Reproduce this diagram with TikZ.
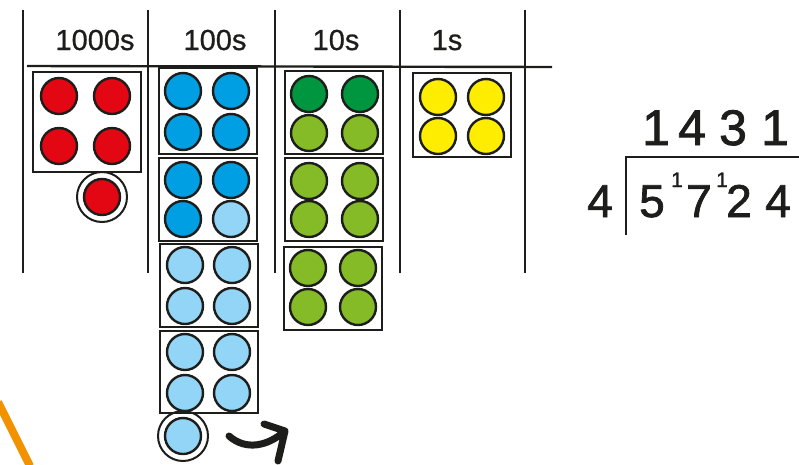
\documentclass[tikz,border=0pt]{standalone}
\usepackage{fontspec}
\setmainfont{Liberation Sans}
\newfontfamily\markerfont[FakeBold=1.6]{Liberation Sans}
\newfontfamily\labelfont[FakeBold=0.8]{Liberation Sans}
\usepackage{xcolor}
\usetikzlibrary{positioning,arrows.meta}

\definecolor{thouRed}{HTML}{E30613}
\definecolor{hundBlue}{HTML}{009FE3}
\definecolor{hundLight}{HTML}{93D5F6}
\definecolor{tenDark}{HTML}{009640}
\definecolor{tenGreen}{HTML}{84BB26}
\definecolor{oneYellow}{HTML}{FFED00}
\definecolor{penOrange}{HTML}{F39200}
\definecolor{ink}{HTML}{1D1D1B}

\tikzset{
  counter/.style={circle, draw=ink, line width=2.4pt, minimum size=36pt, inner sep=0pt},
  group/.style={draw=ink, line width=2.2pt},
  rule/.style={draw=ink, line width=2.4pt},
  heading/.style={font=\labelfont\fontsize{29}{29}\selectfont, text=ink, anchor=base, inner sep=0pt},
  digit/.style={font=\markerfont\fontsize{46}{46}\selectfont, text=ink, anchor=base, inner sep=0pt},
  bigdigit/.style={font=\markerfont\fontsize{50}{50}\selectfont, text=ink, anchor=base, inner sep=0pt},
  carry/.style={font=\markerfont\fontsize{21}{21}\selectfont, text=ink, anchor=base, inner sep=0pt}
}

\begin{document}
\begin{tikzpicture}[x=1pt, y=-1pt]
      \useasboundingbox (0,0) rectangle (799,464);
      % place value chart
      \draw[rule] (23,10) -- (23,273);
      \draw[rule] (148,10) -- (148,273);
      \draw[rule] (275,10) -- (275,273);
      \draw[rule] (400,10) -- (400,273);
      \draw[rule] (525,10) -- (525,273);
      \draw[rule] (27,66) -- (552,67);
      \node[heading] (thou) at (95,50) {1000s};
      \node[heading] (hund) at (215,50) {100s};
      \node[heading] (tens) at (336,50) {10s};
      \node[heading] (ones) at (447,50) {1s};
      % groups of counters
      \draw[group] (33,72) rectangle (141,172);
      \draw[group] (159,68) rectangle (257,154);
      \draw[group] (159,158) rectangle (257,241);
      \draw[group] (160,244) rectangle (258,327);
      \draw[group] (160,331) rectangle (258,413);
      \draw[group] (285,71) rectangle (383,154);
      \draw[group] (285,158) rectangle (383,241);
      \draw[group] (284,247) rectangle (382,330);
      \draw[group] (413,73) rectangle (511,157);
      \foreach \px/\py/\col/\nm in {59/96/thouRed/r1, 112/96/thouRed/r2, 59/146/thouRed/r3, 112/146/thouRed/r4,
          183/91/hundBlue/h1, 231/91/hundBlue/h2, 183/132/hundBlue/h3, 231/132/hundBlue/h4,
          183/180/hundBlue/h5, 231/180/hundBlue/h6, 183/219/hundBlue/h7, 231/219/hundLight/h8,
          185/265/hundLight/h9, 232/265/hundLight/h10, 185/306/hundLight/h11, 232/306/hundLight/h12,
          185/352/hundLight/h13, 232/352/hundLight/h14, 185/393/hundLight/h15, 232/393/hundLight/h16,
          309/94/tenDark/t1, 360/94/tenDark/t2, 309/133/tenGreen/t3, 360/133/tenGreen/t4,
          309/181/tenGreen/t5, 360/181/tenGreen/t6, 309/219/tenGreen/t7, 360/219/tenGreen/t8,
          308/268/tenGreen/t9, 358/268/tenGreen/t10, 308/307/tenGreen/t11, 358/307/tenGreen/t12,
          438/97/oneYellow/o1, 486/97/oneYellow/o2, 438/136/oneYellow/o3, 486/136/oneYellow/o4}
        \node[counter, fill=\col] (\nm) at (\px,\py) {};
      % exchanged counters
      \node[counter, fill=thouRed] (thouLeft) at (102,197) {};
      \draw[ink, line width=2pt] (thouLeft) circle (25);
      \node[counter, fill=hundLight] (hundLeft) at (183,436) {};
      \draw[ink, line width=2pt] (hundLeft) circle (25);
      % carry arrow
      \coordinate (arrStart) at (229,436);
      \coordinate (arrEnd) at (285,431);
      \draw[ink, line width=7pt, line cap=round, line join=round]
        (arrStart) .. controls (246,451) and (268,446) .. (arrEnd)
        (264,424) -- (arrEnd) -- (278,461);
      % pencil edge
      \draw[penOrange, line width=8pt] (-2,402) -- (30,466);
      % short division
      \node[bigdigit] (q1) at (656,145) {1};
      \node[bigdigit] (q2) at (692,145) {4};
      \node[bigdigit] (q3) at (733,145) {3};
      \node[bigdigit] (q4) at (775,145) {1};
      \coordinate (barTop) at (626,157);
      \coordinate (barEnd) at (799,157);
      \coordinate (barFoot) at (626,235);
      \draw[ink, line width=2.4pt] (barEnd) -- (barTop) -- (barFoot);
      \node[digit] (divisor) at (600,217) {4};
      \node[digit] (d1) at (652,217) {5};
      \node[carry] (c1) at (677,187) {1};
      \node[digit] (d2) at (699,217) {7};
      \node[carry] (c2) at (722,187) {1};
      \node[digit] (d3) at (739,217) {2};
      \node[digit] (d4) at (778,217) {4};
    \end{tikzpicture}
\end{document}
